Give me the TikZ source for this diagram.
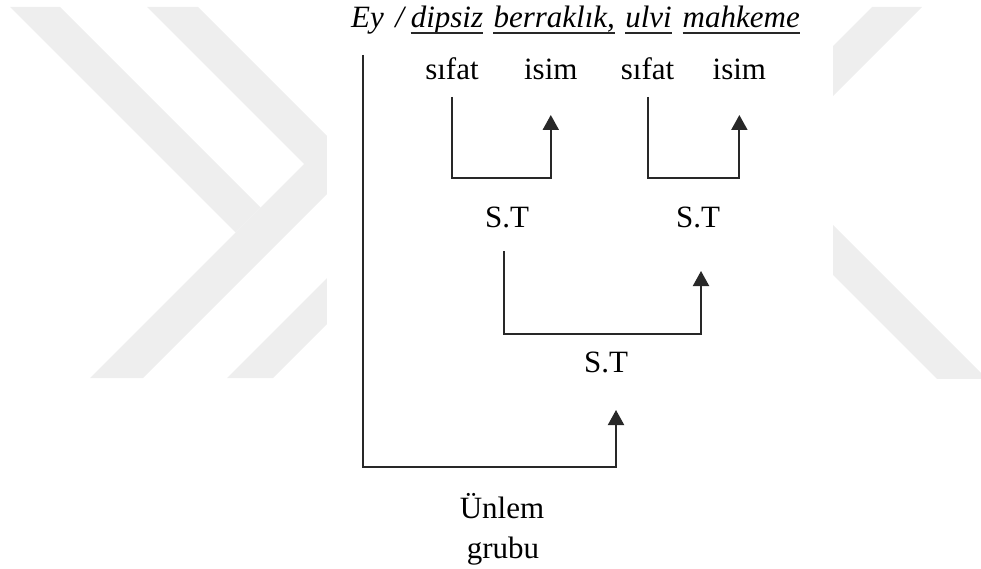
\documentclass[tikz,border=0pt]{standalone}
\usepackage{fontspec}
\setmainfont{Liberation Serif}
\usetikzlibrary{positioning}
\usetikzlibrary{calc}
\usetikzlibrary{arrows.meta}

\definecolor{wmgray}{RGB}{238,238,238}
\definecolor{linegray}{RGB}{40,40,40}

\tikzset{
    word/.style={inner sep=0pt, font=\fontsize{31}{36}\selectfont},
    titleword/.style={word, font=\fontsize{31}{36}\selectfont\itshape},
    link/.style={draw=linegray, line width=2pt, -{Triangle[width=16pt,length=15pt]}},
    uline/.style={draw=linegray, line width=1.5pt},
}

\begin{document}
\begin{tikzpicture}[x=1pt, y=-1pt]
    \useasboundingbox (0,0) rectangle (981,569);

    % watermark
    \begin{scope}
        \clip (0,7) rectangle (981,378);
        \fill[wmgray] (10,7) -- (60,7) -- (260.5,207.5) -- (235.5,232.5) -- cycle;
        \fill[wmgray] (90,378) -- (143,378) -- (400,121) -- (400,68) -- cycle;
        \fill[wmgray] (147,7) -- (198,7) -- (400,209) -- (400,260) -- cycle;
        \fill[wmgray] (227,378) -- (273,378) -- (400,251) -- (400,205) -- cycle;
        \fill[wmgray] (872,7) -- (922,7) -- (800,129) -- (750,129) -- cycle;
        \fill[wmgray] (800,192) -- (1000,392) -- (1000,442) -- (800,242) -- cycle;
    \end{scope}
    \fill[white] (327,0) rectangle (833,380);

    \node[titleword, anchor=base west] (ey) at (351,28) {Ey};
    \node[titleword, base right=11pt of ey] (slash) {/};
    \node[titleword, base right=6.5pt of slash] (dipsiz) {dipsiz};
    \node[titleword, base right=10pt of dipsiz] (berraklik) {berraklık,};
    \node[titleword, base right=10pt of berraklik] (ulvi) {ulvi};
    \node[titleword, base right=10.5pt of ulvi] (mahkeme) {mahkeme};

    \foreach \w in {dipsiz,berraklik,ulvi,mahkeme}
        \draw[uline] ([yshift=-5pt]\w.base west) -- ([yshift=-5pt]\w.base east);

    \node[word, anchor=base] (sifat1) at (452,80) {sıfat};
    \node[word, base right=45pt of sifat1] (isim1) {isim};
    \node[word, base right=43pt of isim1] (sifat2) {sıfat};
    \node[word, base right=38pt of sifat2] (isim2) {isim};

    \node[word, anchor=base] (st1) at (507,227) {S.T};
    \node[word, anchor=base] (st2) at (698,227) {S.T};
    \node[word, anchor=base] (st3) at (606,372) {S.T};

    \node[word, anchor=base] (unlem) at (502,518) {Ünlem};
    \node[word, anchor=base] (grubu) at (503,558) {grubu};

    \draw[link] ([yshift=-17pt]sifat1.base) -- ++(0,81) -| ([yshift=-35pt]isim1.base);
    \draw[link] ([yshift=-17pt]sifat2.base) -- ++(0,81) -| ([yshift=-35pt]isim2.base);
    \draw[link] ([xshift=-3pt,yshift=-24pt]st1.base) -- ++(0,83) -| ([xshift=3pt,yshift=-44pt]st2.base);
    \draw[link] ([xshift=-5pt,yshift=-27pt]ey.base) -- ++(0,412) -| ([xshift=10pt,yshift=-38pt]st3.base);
\end{tikzpicture}
\end{document}
